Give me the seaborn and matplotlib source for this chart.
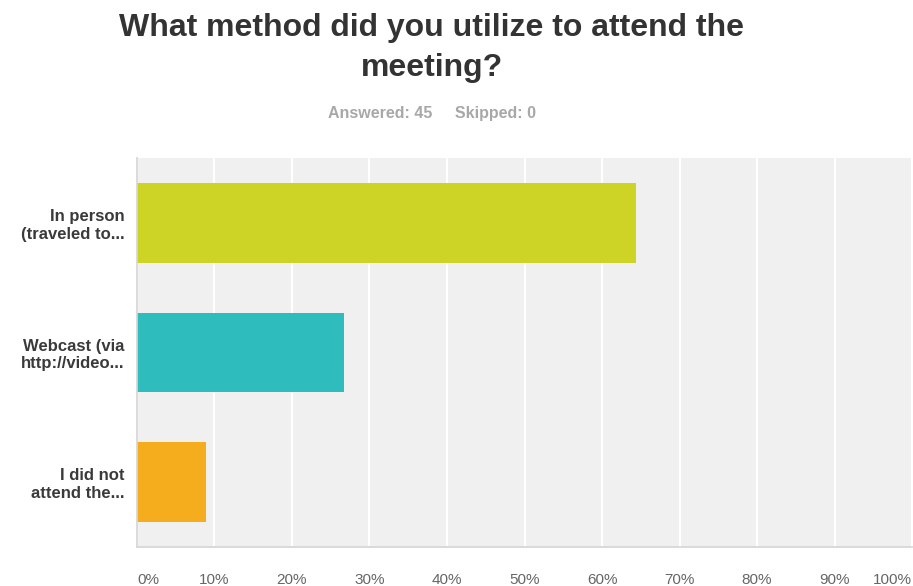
import matplotlib
matplotlib.use("Agg")
import matplotlib.pyplot as plt
import seaborn as sns
import pandas as pd
from matplotlib.ticker import FuncFormatter

# survey answers (45 respondents)
categories = ["In person\n(traveled to...", "Webcast (via\nhttp://video...", "I did not\nattend the..."]
percents = [64.44, 26.67, 8.89]
bar_colors = ["#cdd425", "#2fbcbd", "#f5ad1e"]
x_ticks = [0, 10, 20, 30, 40, 50, 60, 70, 80, 90, 100]

df = pd.DataFrame({"answer": categories, "pct": percents})

sns.set_theme(style="white")
plt.rcParams["font.family"] = ["Liberation Sans", "DejaVu Sans"]

fig = plt.figure(figsize=(9.13, 5.86), dpi=100)
ax = fig.add_axes([0.150, 0.067, 0.849, 0.663])
ax.set_facecolor("#f0f0f0")

sns.barplot(data=df, x="pct", y="answer", hue="answer", palette=bar_colors,
            order=categories, width=0.615, legend=False, ax=ax, saturation=1,
            linewidth=0)

ax.set_xlim(0, 100)
ax.set_xticks(x_ticks)
ax.xaxis.set_major_formatter(FuncFormatter(lambda v, p: f"{int(v)}%"))
ax.grid(axis="x", color="white", linewidth=1.5)
ax.set_axisbelow(True)
ax.set_xlabel("")
ax.set_ylabel("")
ax.tick_params(axis="x", length=0, pad=19, labelsize=11, labelcolor="#666666")
ax.tick_params(axis="y", length=0, pad=9, labelsize=12, labelcolor="#3a3a3a")
for lbl in ax.get_yticklabels():
    lbl.set_fontweight("bold")
    lbl.set_horizontalalignment("right")
    lbl.set_linespacing(1.2)
xlabels = ax.get_xticklabels()
xlabels[0].set_horizontalalignment("left")
xlabels[-1].set_horizontalalignment("right")
for s in ["top", "right"]:
    ax.spines[s].set_visible(False)
for s in ["left", "bottom"]:
    ax.spines[s].set_color("#d6d6d6")

fig.text(0.473, 0.978, "What method did you utilize to attend the\nmeeting?",
         ha="center", va="top", fontsize=23, fontweight="bold", color="#333333",
         linespacing=1.42)
fig.text(0.473, 0.807, "Answered: 45     Skipped: 0", ha="center", va="center",
         fontsize=11.5, fontweight="bold", color="#a8a8a8")

fig.savefig("out.png", dpi=100)
